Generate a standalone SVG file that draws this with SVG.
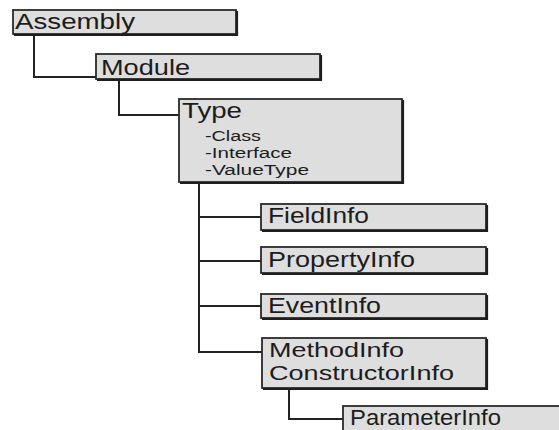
<svg xmlns="http://www.w3.org/2000/svg" width="559" height="430" viewBox="0 0 559 430">
<style>
.box{fill:#dedede;stroke:#2a2a2a;stroke-width:1.8}
.sh{fill:none;stroke:#1e1e1e;stroke-width:2.2}
.t{font-family:"Liberation Sans",Arial,sans-serif;font-size:22.5px;fill:#1c1c1c}
.m{font-family:"Liberation Sans",Arial,sans-serif;font-size:20px;fill:#1c1c1c}
.s{font-family:"Liberation Sans",Arial,sans-serif;font-size:15.5px;fill:#1c1c1c}
.c{fill:none;stroke:#222;stroke-width:2}
</style>
<rect width="559" height="430" fill="#ffffff"/>
<g id="connectors">
<path class="c" d="M34,34 V77 H96"/>
<path class="c" d="M119,79 V115 H179"/>
<path class="c" d="M199,182 V352 H262"/>
<path class="c" d="M199,217 H261"/>
<path class="c" d="M199,261 H261"/>
<path class="c" d="M199,306 H261"/>
<path class="c" d="M289,388 V419 H343"/>
</g>
<g id="assembly">
<rect class="box" x="13" y="10" width="223" height="24"/>
<path class="sh" d="M237,11 V35 H14"/>
<text class="t" x="15" y="28.5" textLength="120" lengthAdjust="spacingAndGlyphs">Assembly</text>
</g>
<g id="module">
<rect class="box" x="96" y="54" width="224" height="25"/>
<path class="sh" d="M321,55 V80 H97"/>
<text class="t" x="101" y="75" textLength="89" lengthAdjust="spacingAndGlyphs">Module</text>
</g>
<g id="type">
<rect class="box" x="179" y="99" width="223" height="83"/>
<path class="sh" d="M403,100 V183 H180"/>
<text class="t" x="182" y="118" textLength="60" lengthAdjust="spacingAndGlyphs">Type</text>
<text class="s" x="205" y="141" textLength="56" lengthAdjust="spacingAndGlyphs">-Class</text>
<text class="s" x="205" y="158" textLength="87" lengthAdjust="spacingAndGlyphs">-Interface</text>
<text class="s" x="205" y="175" textLength="104" lengthAdjust="spacingAndGlyphs">-ValueType</text>
</g>
<g id="fieldinfo">
<rect class="box" x="261" y="204" width="225" height="26"/>
<path class="sh" d="M487,205 V231 H262"/>
<text class="t" x="268" y="223" textLength="101" lengthAdjust="spacingAndGlyphs">FieldInfo</text>
</g>
<g id="propertyinfo">
<rect class="box" x="261" y="247" width="225" height="26"/>
<path class="sh" d="M487,248 V274 H262"/>
<text class="t" x="268" y="267" textLength="147" lengthAdjust="spacingAndGlyphs">PropertyInfo</text>
</g>
<g id="eventinfo">
<rect class="box" x="261" y="294" width="225" height="24"/>
<path class="sh" d="M487,295 V319 H262"/>
<text class="t" x="268" y="313" textLength="113" lengthAdjust="spacingAndGlyphs">EventInfo</text>
</g>
<g id="methodinfo">
<rect class="box" x="262" y="338" width="224" height="50"/>
<path class="sh" d="M487,339 V389 H263"/>
<text class="m" x="269" y="357" textLength="135" lengthAdjust="spacingAndGlyphs">MethodInfo</text>
<text class="m" x="269" y="380" textLength="185" lengthAdjust="spacingAndGlyphs">ConstructorInfo</text>
</g>
<g id="parameterinfo">
<rect class="box" x="343" y="406" width="230" height="40"/>
<text class="t" x="350" y="425" textLength="151" lengthAdjust="spacingAndGlyphs">ParameterInfo</text>
</g>
</svg>
